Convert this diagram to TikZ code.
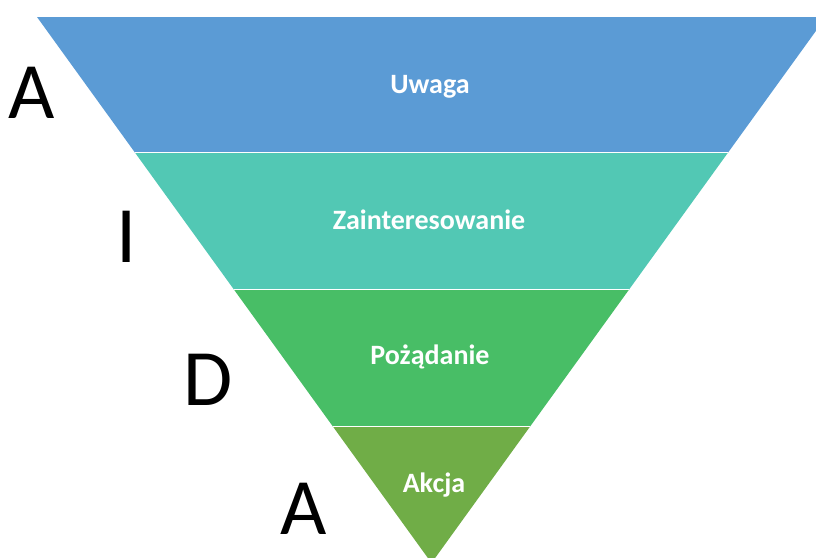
\documentclass[tikz,border=0pt]{standalone}
\usepackage{fontspec}
\setmainfont{Carlito}
\usetikzlibrary{positioning}

\definecolor{uwagablue}{RGB}{91,155,213}
\definecolor{zaintteal}{RGB}{82,200,180}
\definecolor{pozgreen}{RGB}{72,190,102}
\definecolor{akcjagreen}{RGB}{112,173,71}

\tikzset{
  band/.style={draw=white, line width=1.5pt},
  stage/.style={text=white, font=\bfseries\fontsize{28}{32}\selectfont, anchor=base, inner sep=0pt},
  letter/.style={text=black, font=\fontsize{80}{90}\selectfont, anchor=base, inner sep=0pt}
}

\begin{document}
\begin{tikzpicture}[x=1pt, y=-1pt]
\useasboundingbox (0,0) rectangle (816,557);

\coordinate (l0) at (37,17);
\coordinate (r0) at (826,17);
\coordinate (l1) at (134.9,152.5);
\coordinate (r1) at (728.1,152.5);
\coordinate (l2) at (233.9,289.5);
\coordinate (r2) at (629.1,289.5);
\coordinate (l3) at (332.9,426.5);
\coordinate (r3) at (530.1,426.5);
\coordinate (tip) at (431.5,563);

\fill[uwagablue] (l0) -- (r0) -- (r1) -- (l1) -- cycle;
\fill[zaintteal] (l1) -- (r1) -- (r2) -- (l2) -- cycle;
\fill[pozgreen] (l2) -- (r2) -- (r3) -- (l3) -- cycle;
\fill[akcjagreen] (l3) -- (r3) -- (tip) -- cycle;
\draw[band] (l1) -- (r1);
\draw[band] (l2) -- (r2);
\draw[band] (l3) -- (r3);

\node[stage] (uwaga) at (430,93) {Uwaga};
\node[stage] (zaint) at (429,229) {Zainteresowanie};
\node[stage] (poz) at (430,364) {Pożądanie};
\node[stage] (akcja) at (434,492) {Akcja};

\node[letter] (a1) at (32,118) {A};
\node[letter] (i) at (127,262) {I};
\node[letter] (d) at (208,405) {D};
\node[letter] (a2) at (304,534) {A};

\end{tikzpicture}
\end{document}
